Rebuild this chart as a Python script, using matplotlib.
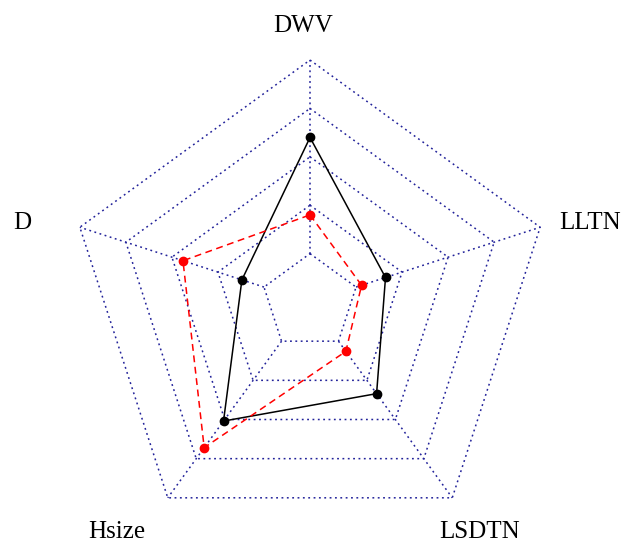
import numpy as np
import matplotlib.pyplot as plt

# axes, clockwise from the top
labels = ["DWV", "LLTN", "LSDTN", "Hsize", "D"]

# scaled values (0 = inner ring, 1 = outer ring)
black_vals = [0.60, 0.16, 0.335, 0.51, 0.12]
red_vals = [0.20, 0.03, 0.065, 0.68, 0.44]

n_seg = 4   # number of segments between the rings
c_gap = 1   # centre gap, like fmsb with centerzero=FALSE

# where the axis names sit, in units of the outer radius
label_pos = [(-0.03, 1.14), (1.157, 0.326), (0.702, -0.952),
             (-0.798, -0.95), (-1.19, 0.326)]

n = len(labels)
theta = np.pi / 2 - 2 * np.pi * np.arange(n) / n
cx, cy = np.cos(theta), np.sin(theta)


def to_xy(vals):
    r = (c_gap + np.asarray(vals) * n_seg) / (n_seg + c_gap)
    x = r * cx
    y = r * cy
    return np.append(x, x[0]), np.append(y, y[0])


fig = plt.figure(figsize=(6.21, 5.45), dpi=100)
ax = fig.add_axes([0, 0, 1, 1])
ax.set_xlim(-1.281, 1.285)
ax.set_ylim(-1.004, 1.248)
ax.axis("off")

grid_kw = dict(color="#22229a", lw=1.1, linestyle=(0, (1.2, 2.3)))

# rings
for i in range(n_seg + 1):
    r = (i + c_gap) / (n_seg + c_gap)
    ax.plot(np.append(r * cx, r * cx[0]), np.append(r * cy, r * cy[0]), **grid_kw)

# spokes from the inner ring to the outer one
r0 = c_gap / (n_seg + c_gap)
for k in range(n):
    ax.plot([r0 * cx[k], cx[k]], [r0 * cy[k], cy[k]], **grid_kw)

bx, by = to_xy(black_vals)
ax.plot(bx, by, color="black", lw=1.1, linestyle="-")
ax.plot(bx[:-1], by[:-1], "o", color="black", ms=6)

rx, ry = to_xy(red_vals)
ax.plot(rx, ry, color="red", lw=1.1, linestyle=(0, (4.5, 3)))
ax.plot(rx[:-1], ry[:-1], "o", color="red", ms=6)

for lab, (x, y) in zip(labels, label_pos):
    ax.text(x, y, lab, ha="center", va="center", fontsize=18,
            family="Liberation Serif")

fig.savefig("out.png", dpi=100)
